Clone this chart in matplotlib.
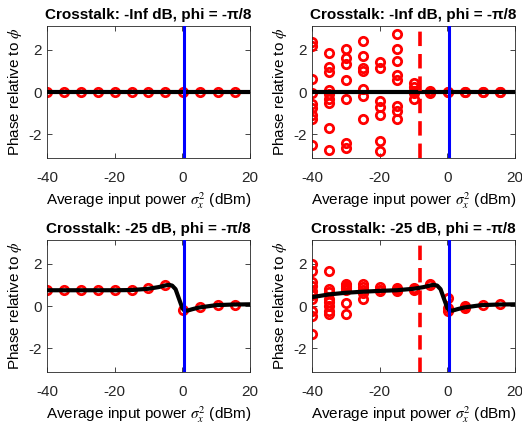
import numpy as np
import matplotlib as mpl
mpl.use("Agg")
import matplotlib.pyplot as plt

mpl.rcParams.update({
    "font.family": ["Liberation Sans", "DejaVu Sans"],
    "mathtext.fontset": "stix",
    "axes.unicode_minus": False,
    "font.size": 11,
    "axes.linewidth": 0.6,
    "axes.edgecolor": "#262626",
    "xtick.color": "#262626",
    "ytick.color": "#262626",
    "xtick.direction": "in",
    "ytick.direction": "in",
    "xtick.top": True,
    "ytick.right": True,
    "xtick.major.size": 3.5,
    "ytick.major.size": 3.5,
    "xtick.major.width": 0.6,
    "ytick.major.width": 0.6,
    "xtick.labelsize": 11,
    "ytick.labelsize": 11,
    "xtick.major.pad": 9,
    "ytick.major.pad": 4,
})

# input power sweep (dBm)
power_dbm = [-40, -35, -30, -25, -20, -15, -10, -5, 0.3, 5.3, 10.4, 15.5]
threshold_dbm = -8.0      # red dashed line
ref_power_dbm = 0.4       # blue line

# top-left: no crosstalk, single estimate per power
tl_phase = [0.0] * 12

# top-right: no crosstalk, many noisy estimates per power
tr_phase = [
    [2.40, 2.18, 0.64, -0.05, -0.55, -0.75, -1.09, -1.27, -2.53],
    [1.88, 1.17, 0.95, 0.08, -0.08, -0.34, -0.50, -1.73, -2.77],
    [2.04, 1.63, 1.31, 0.59, -0.32, -2.45, -2.67],
    [2.44, 1.71, 1.15, 0.99, 0.14, -0.21, -1.28],
    [1.44, 1.12, -0.45, -0.70, -1.09, -2.32, -2.83],
    [2.76, 2.07, 1.47, 0.83, 0.59, -0.66, -0.90, -1.28],
    [0.45, 0.25, 0.05, -0.05, -0.35],
    [0.03, 0.0, -0.03],
    [0.0, 0.02],
    [0.0, -0.02],
    [0.0, 0.01],
    [0.0, 0.0],
]

# bottom-left: -25 dB crosstalk, single estimate per power
bl_phase = [0.75, 0.75, 0.75, 0.75, 0.75, 0.77, 0.85, 1.02, -0.20, -0.05, 0.05, 0.07]

# bottom-right: -25 dB crosstalk, many noisy estimates per power
br_phase = [
    [1.99, 1.67, 1.14, 0.93, 0.71, 0.53, 0.34, -0.22, -0.46, -1.31],
    [1.67, 0.82, 0.66, 0.34, 0.18, 0.02, -0.25, -0.38],
    [1.06, 0.95, 0.85, 0.77, 0.13, -0.40],
    [1.05, 0.92, 0.75, 0.62, 0.34],
    [0.90, 0.78, 0.70],
    [0.85, 0.75, 0.70],
    [0.85, 0.78],
    [1.05, 0.98],
    [0.40, -0.10, -0.25],
    [-0.08, -0.02],
    [0.06],
    [0.10],
]

# theory curves
flat_x = [-40, 20]
flat_y = [0.0, 0.0]
bl_curve_x = [-40, -30, -20, -15, -10, -7, -5, -4, -3, -2, -1, 0, 0.5, 1.5, 3, 5, 10, 15, 20]
bl_curve_y = [0.75, 0.75, 0.75, 0.76, 0.82, 0.90, 0.98, 1.01, 0.97, 0.80, 0.35, -0.10,
              -0.20, -0.22, -0.15, -0.07, 0.04, 0.07, 0.08]
br_curve_x = [-40, -35, -30, -25, -20, -15, -10, -7, -5, -4, -3, -2, -1, 0, 0.5, 1.5, 3, 5, 10, 15, 20]
br_curve_y = [0.42, 0.55, 0.63, 0.68, 0.72, 0.75, 0.82, 0.90, 0.98, 1.01, 0.97, 0.80, 0.35,
              -0.10, -0.20, -0.22, -0.15, -0.07, 0.04, 0.07, 0.08]

TITLE_INF = "Crosstalk: -Inf dB, phi = -\u03c0/8"
TITLE_25 = "Crosstalk: -25 dB, phi = -\u03c0/8"
XLAB = r"Average input power $\sigma_x^2$ (dBm)"
YLAB = r"Phase relative to $\phi$"

MK = dict(marker="o", linestyle="none", markerfacecolor="none",
          markeredgecolor="red", markersize=6, markeredgewidth=2.0, zorder=2)


def style(ax, title):
    ax.set_xlim(-40, 20)
    ax.set_ylim(-np.pi, np.pi)
    ax.set_xticks([-40, -20, 0, 20])
    ax.set_yticks([-2, 0, 2])
    ax.set_title(title, fontsize=11, fontweight="bold", pad=5)
    ax.set_xlabel(XLAB, labelpad=4)
    ax.set_ylabel(YLAB, labelpad=3)


def scatter_cols(ax, cols):
    for x, vals in zip(power_dbm, cols):
        ax.plot([x] * len(vals), vals, **MK)


fig = plt.figure(figsize=(5.22, 4.28), dpi=100)
W, H = 203 / 522, 132 / 428
ax_tl = fig.add_axes([47 / 522, 1 - 158 / 428, W, H])
ax_tr = fig.add_axes([312 / 522, 1 - 158 / 428, W, H])
ax_bl = fig.add_axes([47 / 522, 1 - 372 / 428, W, H])
ax_br = fig.add_axes([312 / 522, 1 - 372 / 428, W, H])

# top-left
ax_tl.plot(power_dbm, tl_phase, **MK)
ax_tl.plot(flat_x, flat_y, color="black", lw=3, zorder=3)
ax_tl.axvline(ref_power_dbm, color="blue", lw=2.2, zorder=4)
style(ax_tl, TITLE_INF)

# top-right
scatter_cols(ax_tr, tr_phase)
ax_tr.plot(flat_x, flat_y, color="black", lw=3, zorder=3)
ax_tr.axvline(ref_power_dbm, color="blue", lw=2.2, zorder=4)
ax_tr.axvline(threshold_dbm, color="red", lw=2.6, ls=(0, (4, 2.2)), zorder=4)
style(ax_tr, TITLE_INF)

# bottom-left
ax_bl.plot(power_dbm, bl_phase, **MK)
ax_bl.plot(bl_curve_x, bl_curve_y, color="black", lw=3, zorder=3)
ax_bl.axvline(ref_power_dbm, color="blue", lw=2.2, zorder=4)
style(ax_bl, TITLE_25)

# bottom-right
scatter_cols(ax_br, br_phase)
ax_br.plot(br_curve_x, br_curve_y, color="black", lw=3, zorder=3)
ax_br.axvline(ref_power_dbm, color="blue", lw=2.2, zorder=4)
ax_br.axvline(threshold_dbm, color="red", lw=2.6, ls=(0, (4, 2.2)), zorder=4)
style(ax_br, TITLE_25)

fig.savefig("out.png", dpi=100)
